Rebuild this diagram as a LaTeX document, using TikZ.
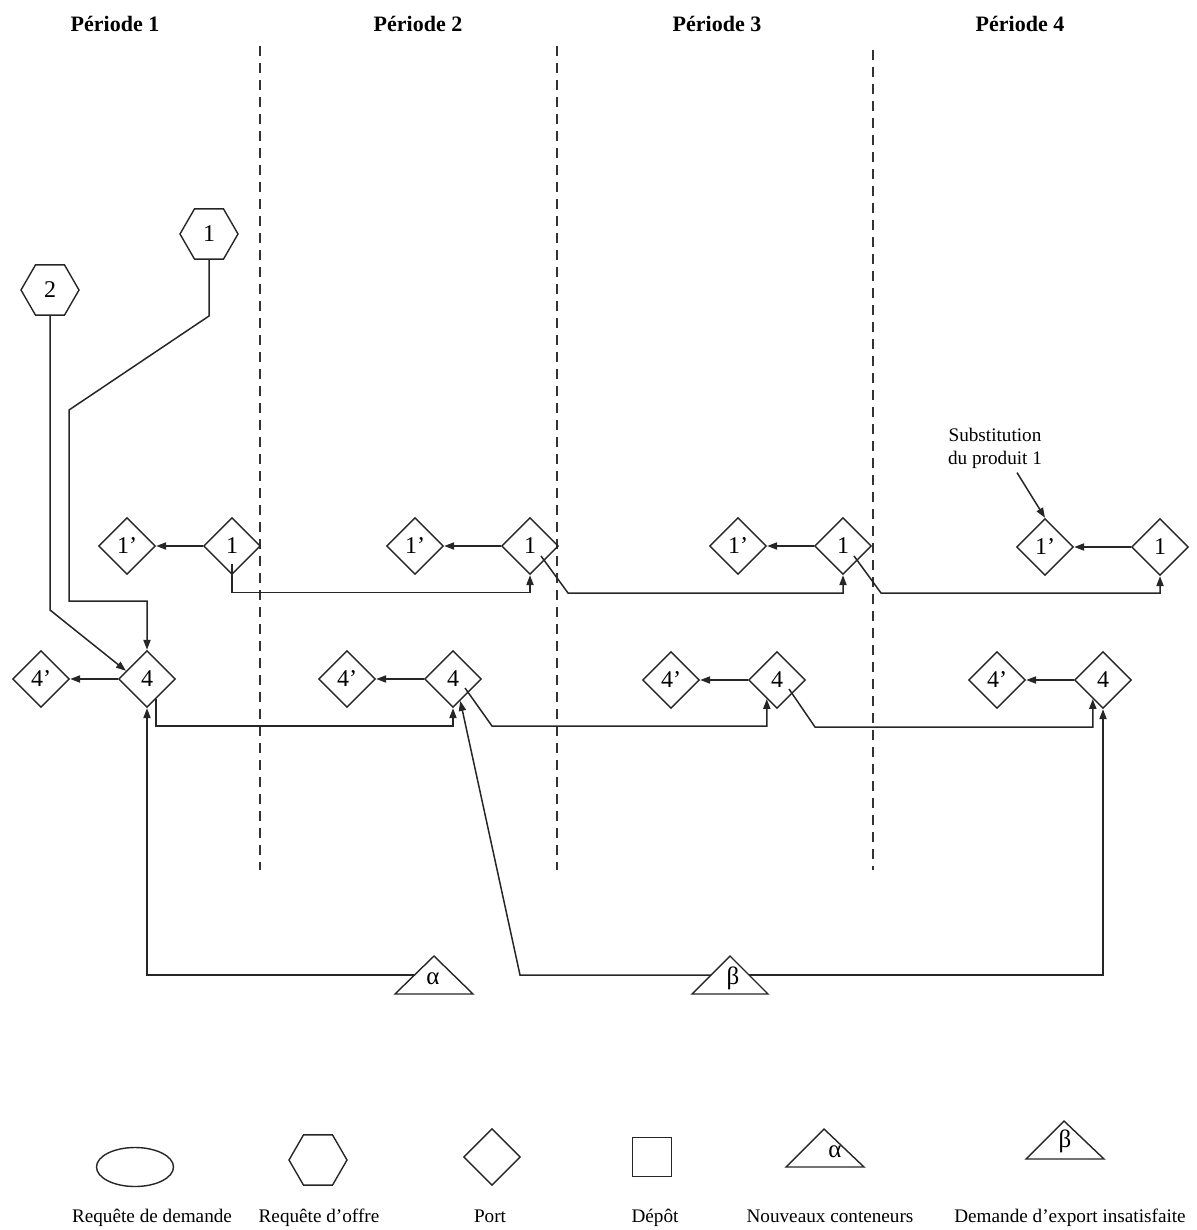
\documentclass[tikz,border=0pt]{standalone}
\usepackage{fontspec}
\setmainfont{Liberation Serif}
\usetikzlibrary{shapes.geometric,arrows.meta,calc}
\begin{document}
\begin{tikzpicture}[x=0.5pt,y=-0.5pt,
  txt/.style={font=\fontsize{9.6}{11.5}\selectfont, inner sep=0pt},
  lbl/.style={font=\fontsize{9.6}{11.5}\selectfont, inner sep=0pt, anchor=base},
  hdr/.style={font=\fontsize{11}{13}\selectfont\bfseries, inner sep=0pt},
  greek/.style={font=\fontsize{12.5}{14}\selectfont, inner sep=0pt},
  port/.style={draw=black!85, line width=0.7pt, diamond, minimum size=28.5pt, inner sep=0pt, font=\fontsize{12}{14}\selectfont},
  hexa/.style={draw=black!85, line width=0.7pt, regular polygon, regular polygon sides=6, minimum size=29pt, inner sep=0pt, font=\fontsize{12}{14}\selectfont},
  conn/.style={draw=black!85, line width=0.75pt},
  arr/.style={conn, -{Triangle[length=5pt,width=3.6pt]}},
  sep/.style={draw=black!80, line width=0.7pt, dash pattern=on 5pt off 3.5pt},
  shp/.style={draw=black!85, line width=0.7pt}
]
\useasboundingbox (0,0) rectangle (1196,1230);

% period headers
\node[hdr] (p1) at (115,24) {Période 1};
\node[hdr] (p2) at (418,24) {Période 2};
\node[hdr] (p3) at (717,24) {Période 3};
\node[hdr] (p4) at (1020,24) {Période 4};

% separators
\draw[sep] (260,46) -- (260,870);
\draw[sep] (557,46) -- (557,870);
\draw[sep] (873,50) -- (873,870);

% supply requests
\node[hexa] (H1) at (209,234) {1};
\node[hexa] (H2) at (50,290) {2};

% ports product 1
\node[port] (d1pa) at (127,546) {1’};
\node[port] (d1a)  at (232,546) {1};
\node[port] (d1pb) at (415,546) {1’};
\node[port] (d1b)  at (530,546) {1};
\node[port] (d1pc) at (738,546) {1’};
\node[port] (d1c)  at (843,546) {1};
\node[port] (d1pd) at (1045,547) {1’};
\node[port] (d1d)  at (1160,547) {1};

% ports product 4
\node[port] (d4pa) at (41,679) {4’};
\node[port] (d4a)  at (147,679) {4};
\node[port] (d4pb) at (347,679) {4’};
\node[port] (d4b)  at (453,679) {4};
\node[port] (d4pc) at (671,680) {4’};
\node[port] (d4c)  at (777,680) {4};
\node[port] (d4pd) at (997,680) {4’};
\node[port] (d4d)  at (1103,680) {4};

% substitution label
\node[txt, align=center] (sub) at (995,448) {Substitution\\du produit 1};

% triangles alpha / beta
\draw[shp] (395,994) -- (434,956) -- (473,994) -- cycle;
\node[greek] (alpha) at (433,979) {α};
\coordinate (aL) at (414.5,975);
\draw[shp] (692,994) -- (730,956) -- (768,994) -- cycle;
\node[greek] (beta) at (733,978) {β};
\coordinate (bL) at (711,975);
\coordinate (bR) at (749,975);

% connectors: substitutions
\foreach \s in {a,b,c,d}{
  \draw[arr] (d1\s.west) -- (d1p\s.east);
  \draw[arr] (d4\s.west) -- (d4p\s.east);
}

% supply 1 and 2 to port 4
\draw[arr] (H1.south) -- (209,316) -- (69,410) -- (69,601) -| (d4a.north);
\draw[arr] (H2.south) -- (50,610) -- ($(d4a.west)!0.28!(d4a.north)$);

% product 1 inventory links
\draw[arr] ($(d1a.center)!0.6!(d1a.south)$) -- ++(0,29) -| (d1b.south);
\draw[arr] ($(d1b.center)+(11,10)$) -- ($(d1b.center)+(38,47)$) -| (d1c.south);
\draw[arr] ($(d1c.center)+(11,10)$) -- ($(d1c.center)+(38,47)$) -| (d1d.south);

% product 4 inventory links
\draw[arr] ($(d4a.center)+(9,20)$) -- ++(0,27) -| (d4b.south);
\draw[arr] ($(d4b.center)+(12,9)$) -- ($(d4b.center)+(39,47)$) -| ($(d4c.west)!0.65!(d4c.south)$);
\draw[arr] ($(d4c.center)+(12,9)$) -- ($(d4c.center)+(38,47)$) -| ($(d4d.west)!0.65!(d4d.south)$);

% new containers and unsatisfied demand
\draw[arr] (aL) -| (d4a.south);
\draw[arr] (bL) -- (520,975) -- ($(d4b.south)!0.25!(d4b.east)$);
\draw[arr] (bR) -| (d4d.south);

% substitution arrow
\draw[arr] ($(sub.south)+(22,4)$) -- (d1pd.north);

% legend
\node[shp, ellipse, minimum width=38.5pt, minimum height=19.5pt, inner sep=0pt] (Lell) at (135,1167) {};
\node[hexa] (Lhex) at (318,1160) {};
\node[port] (Lport) at (492,1157) {};
\node[shp, rectangle, minimum size=19.5pt, inner sep=0pt] (Ldep) at (652,1157) {};
\draw[shp] (786,1167) -- (824,1129) -- (864,1167) -- cycle;
\node[greek] (Lalpha) at (835,1152) {α};
\draw[shp] (1026,1159) -- (1064,1121) -- (1104,1159) -- cycle;
\node[greek] (Lbeta) at (1065,1141) {β};

\node[lbl] (t1) at (152,1222) {Requête de demande};
\node[lbl] (t2) at (319,1222) {Requête d’offre};
\node[lbl] (t3) at (490,1222) {Port};
\node[lbl] (t4) at (655,1222) {Dépôt};
\node[lbl] (t5) at (830,1222) {Nouveaux conteneurs};
\node[lbl] (t6) at (1070,1222) {Demande d’export insatisfaite};
\end{tikzpicture}
\end{document}
